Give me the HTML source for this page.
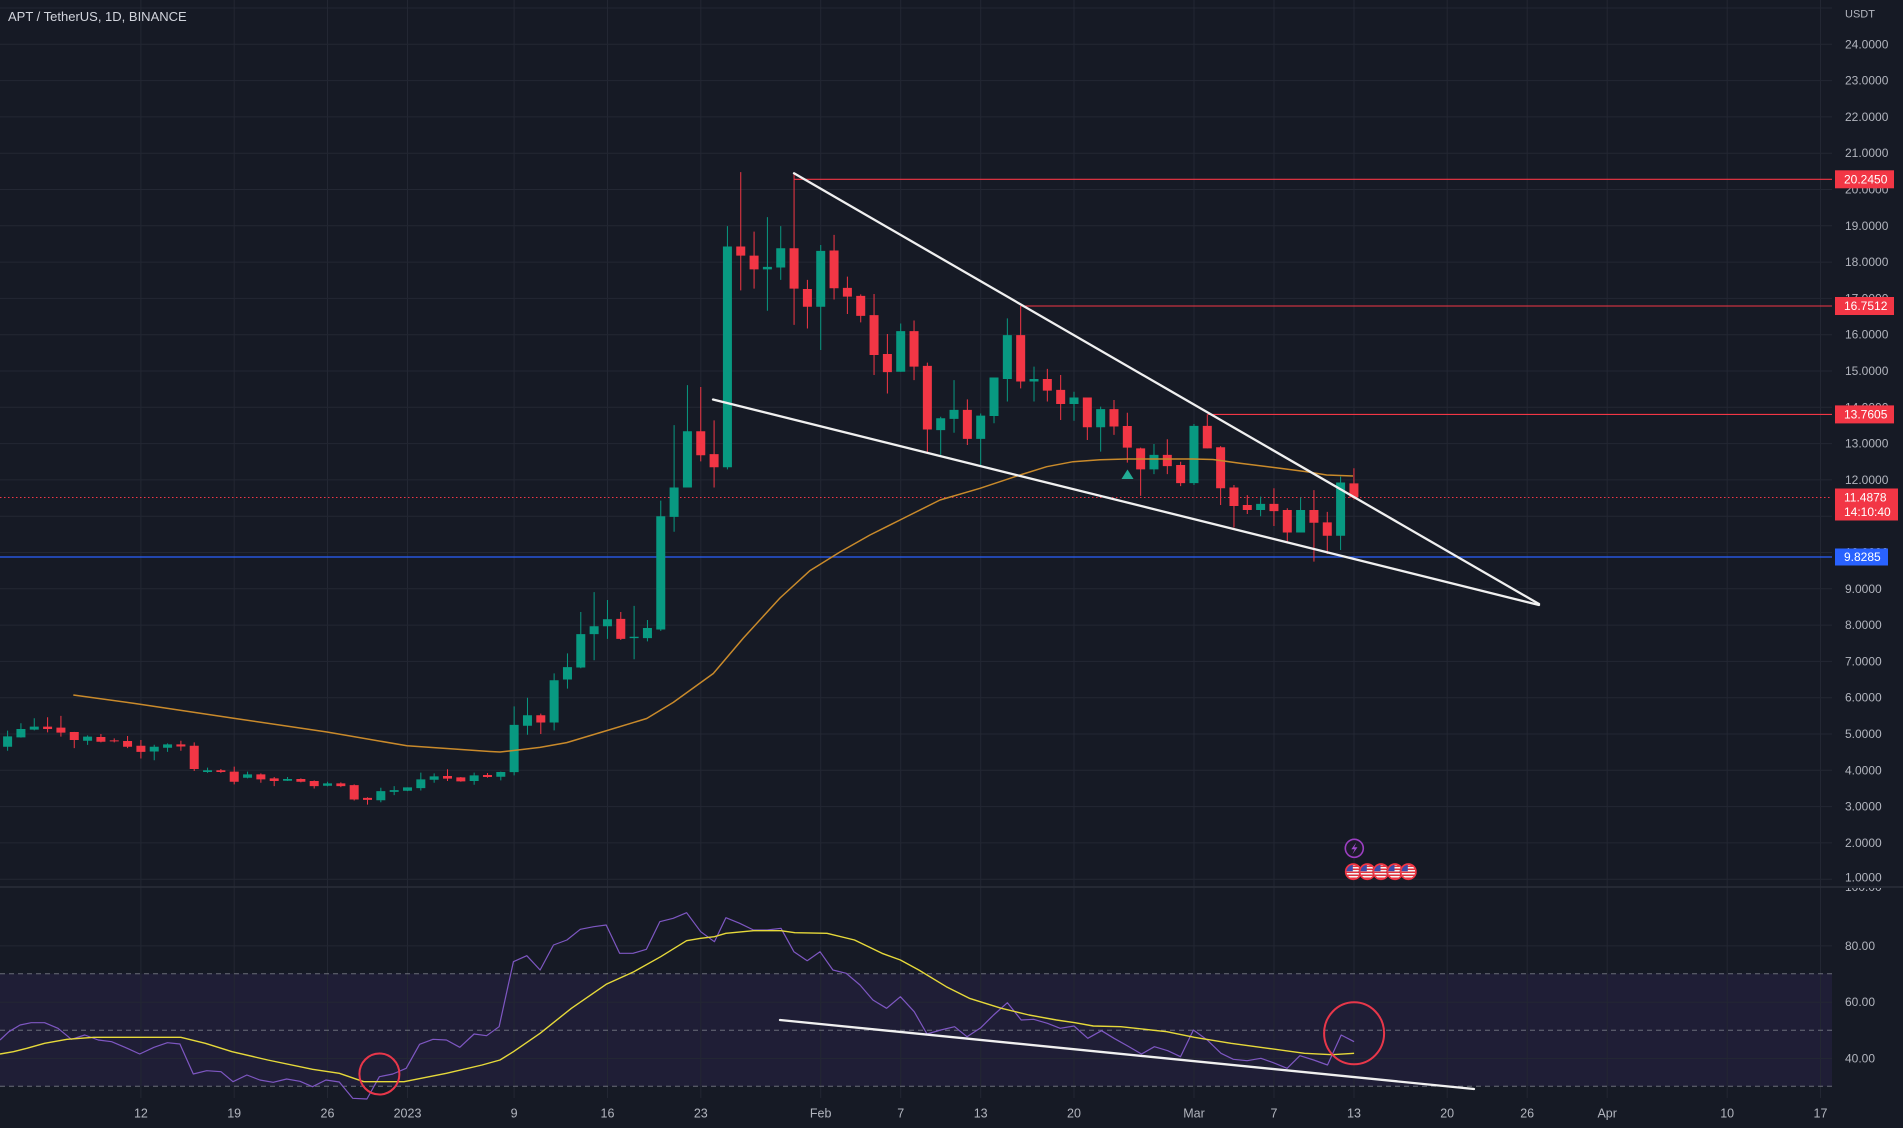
<!DOCTYPE html>
<html><head><meta charset="utf-8">
<style>
html,body{margin:0;padding:0;background:#161a25;}
svg{display:block;font-family:"Liberation Sans",Arial,sans-serif;}
</style></head>
<body>
<svg width="1903" height="1128" viewBox="0 0 1903 1128" xmlns="http://www.w3.org/2000/svg">
<defs>
<clipPath id="pricePane"><rect x="0" y="0" width="1832" height="886"/></clipPath>
<clipPath id="rsiPane"><rect x="0" y="888" width="1832" height="212"/></clipPath>
<clipPath id="rsiAxis"><rect x="1833" y="888" width="70" height="212"/></clipPath>
<clipPath id="fc"><circle cx="0" cy="0" r="7"/></clipPath>
<g id="flag">
<circle r="8.6" fill="#5a1a22"/>
<g clip-path="url(#fc)">
<rect x="-8" y="-8" width="16" height="16" fill="#f4f4f4"/>
<rect x="-8" y="-6.2" width="16" height="1.5" fill="#e0343f"/>
<rect x="-8" y="-3.2" width="16" height="1.5" fill="#e0343f"/>
<rect x="-8" y="-0.2" width="16" height="1.5" fill="#e0343f"/>
<rect x="-8" y="2.8" width="16" height="1.5" fill="#e0343f"/>
<rect x="-8" y="5.8" width="16" height="1.5" fill="#e0343f"/>
<rect x="-8" y="-8" width="7.5" height="7.5" fill="#3d4aa8"/>
</g>
<circle r="7.6" fill="none" stroke="#f23645" stroke-width="1.6"/>
</g>
</defs>

<rect x="0" y="0" width="1903" height="1128" fill="#161a25"/>

<!-- RSI band -->
<rect x="0" y="973.7" width="1832" height="112.6" fill="#1f1e36"/>

<!-- vertical grid -->
<g stroke="#232733" stroke-width="1">
<line x1="140.9" y1="0" x2="140.9" y2="1098"/>
<line x1="234.2" y1="0" x2="234.2" y2="1098"/>
<line x1="327.5" y1="0" x2="327.5" y2="1098"/>
<line x1="407.5" y1="0" x2="407.5" y2="1098"/>
<line x1="514.1" y1="0" x2="514.1" y2="1098"/>
<line x1="607.5" y1="0" x2="607.5" y2="1098"/>
<line x1="700.8" y1="0" x2="700.8" y2="1098"/>
<line x1="820.7" y1="0" x2="820.7" y2="1098"/>
<line x1="900.7" y1="0" x2="900.7" y2="1098"/>
<line x1="980.7" y1="0" x2="980.7" y2="1098"/>
<line x1="1074" y1="0" x2="1074" y2="1098"/>
<line x1="1194" y1="0" x2="1194" y2="1098"/>
<line x1="1274" y1="0" x2="1274" y2="1098"/>
<line x1="1354" y1="0" x2="1354" y2="1098"/>
<line x1="1447.2" y1="0" x2="1447.2" y2="1098"/>
<line x1="1527.2" y1="0" x2="1527.2" y2="1098"/>
<line x1="1607.2" y1="0" x2="1607.2" y2="1098"/>
<line x1="1727.2" y1="0" x2="1727.2" y2="1098"/>
<line x1="1820.5" y1="0" x2="1820.5" y2="1098"/>
</g>
<!-- horizontal grid price -->
<g stroke="#232733" stroke-width="1">
<line x1="0" x2="1832" y1="879.2" y2="879.2"/>
<line x1="0" x2="1832" y1="842.9" y2="842.9"/>
<line x1="0" x2="1832" y1="806.6" y2="806.6"/>
<line x1="0" x2="1832" y1="770.3" y2="770.3"/>
<line x1="0" x2="1832" y1="734" y2="734"/>
<line x1="0" x2="1832" y1="697.7" y2="697.7"/>
<line x1="0" x2="1832" y1="661.4" y2="661.4"/>
<line x1="0" x2="1832" y1="625.1" y2="625.1"/>
<line x1="0" x2="1832" y1="588.8" y2="588.8"/>
<line x1="0" x2="1832" y1="552.5" y2="552.5"/>
<line x1="0" x2="1832" y1="516.2" y2="516.2"/>
<line x1="0" x2="1832" y1="479.9" y2="479.9"/>
<line x1="0" x2="1832" y1="443.6" y2="443.6"/>
<line x1="0" x2="1832" y1="407.3" y2="407.3"/>
<line x1="0" x2="1832" y1="371" y2="371"/>
<line x1="0" x2="1832" y1="334.7" y2="334.7"/>
<line x1="0" x2="1832" y1="298.4" y2="298.4"/>
<line x1="0" x2="1832" y1="262.1" y2="262.1"/>
<line x1="0" x2="1832" y1="225.8" y2="225.8"/>
<line x1="0" x2="1832" y1="189.5" y2="189.5"/>
<line x1="0" x2="1832" y1="153.2" y2="153.2"/>
<line x1="0" x2="1832" y1="116.9" y2="116.9"/>
<line x1="0" x2="1832" y1="80.6" y2="80.6"/>
<line x1="0" x2="1832" y1="44.3" y2="44.3"/>
<line x1="0" x2="1832" y1="8" y2="8"/>
<!-- rsi grid -->
<line x1="0" x2="1832" y1="945.9" y2="945.9"/>
<line x1="0" x2="1832" y1="1002.2" y2="1002.2"/>
<line x1="0" x2="1832" y1="1058.5" y2="1058.5"/>
</g>

<!-- RSI dashed levels -->
<g stroke="#787b86" stroke-width="1" stroke-dasharray="5,4" opacity="0.85">
<line x1="0" x2="1832" y1="973.7" y2="973.7"/>
<line x1="0" x2="1832" y1="1030.3" y2="1030.3"/>
<line x1="0" x2="1832" y1="1086.3" y2="1086.3"/>
</g>

<!-- pane separator -->
<line x1="0" x2="1903" y1="887" y2="887" stroke="#2a2e39" stroke-width="1.5"/>

<!-- PRICE PANE -->
<g clip-path="url(#pricePane)">
<line x1="0" x2="1832" y1="557" y2="557" stroke="#2962ff" stroke-width="1.3"/>
<line x1="0" x2="1832" y1="497.5" y2="497.5" stroke="#f23645" stroke-width="1" stroke-dasharray="1.5,2.5"/>
<line x1="794" x2="1832" y1="179.3" y2="179.3" stroke="#f23645" stroke-width="1.1"/>
<line x1="1021" x2="1832" y1="306" y2="306" stroke="#f23645" stroke-width="1.1"/>
<line x1="1208" x2="1832" y1="414.4" y2="414.4" stroke="#f23645" stroke-width="1.1"/>

<!-- candles -->
<g transform="translate(407.5,915.5) scale(13.33,-36.3)" fill="none" stroke-linecap="butt">
<path stroke="#089981" stroke-width="1" vector-effect="non-scaling-stroke" d="M-30 4.537V5.093M-29 4.9V5.296M-28 5.1V5.435M-24 4.7V4.963M-19 4.278V4.704M-18 4.509V4.741M-15 3.93V4.074M-12 3.778V3.963M-9 3.704V3.815M-6 3.556V3.685M-2 3.12V3.519M-1 3.315V3.565M0 3.426V3.53M1 3.444V3.935M2 3.657V3.917M5 3.602V3.935M7 3.722V3.963M8 3.86V5.76M9 4.98V6M11 5.1V6.67M12 6.25V7.22M13 6.81V8.36M14 7.03V8.91M15 7.62V8.69M17 7.06V8.53M18 7.55V8.14M19 7.84V11.43M20 10.57V13.51M21 11.79V14.61M24 12.29V18.99M27 16.66V19.24M28 17.51V18.99M31 15.58V18.47M37 14.98V16.31M40 12.69V13.74M41 13.3V14.75M43 12.41V13.83M44 13.56V14.82M45 14.16V16.45M47 14.16V15.12M50 13.63V14.43M52 12.78V14.02M56 12.16V12.99M59 11.86V13.54M64 11V11.54M67 10.55V11.52M70 10.07V12.09"/>
<path stroke="#089981" stroke-width="9" vector-effect="non-scaling-stroke" d="M-30 4.648V4.935M-29 4.907V5.139M-28 5.12V5.204M-24 4.815V4.926M-19 4.519V4.648M-18 4.62V4.713M-15 3.954V4M-12 3.796V3.889M-9 3.713V3.759M-6 3.574V3.639M-2 3.176V3.426M-1 3.407V3.454M0 3.435V3.528M1 3.509V3.75M2 3.741V3.833M5 3.704V3.861M7 3.824V3.954M8 3.95V5.25M9 5.228V5.516M11 5.316V6.479M12 6.5V6.843M13 6.833V7.75M14 7.75V7.97M15 7.97V8.16M17 7.64V7.68M18 7.64V7.92M19 7.88V11M20 10.98V11.79M21 11.79V13.34M24 12.35V18.43M27 17.8V17.87M28 17.85V18.38M31 16.77V18.31M37 14.98V16.1M40 13.37V13.7M41 13.68V13.93M43 13.13V13.77M44 13.76V14.82M45 14.78V15.99M47 14.71V14.78M50 14.09V14.27M52 13.45V13.95M56 12.29V12.69M59 11.91V13.49M64 11.17V11.34M67 10.55V11.17M70 10.46V11.93"/>
<path stroke="#f23645" stroke-width="1" vector-effect="non-scaling-stroke" d="M-27 5.046V5.463M-26 4.926V5.5M-25 4.61V5.06M-23 4.77V5M-22 4.77V4.88M-21 4.61V4.944M-20 4.324V4.833M-17 4.537V4.815M-16 3.981V4.769M-14 3.93V4.037M-13 3.611V4.102M-11 3.657V3.917M-10 3.565V3.815M-8 3.667V3.778M-7 3.5V3.722M-5 3.537V3.667M-4 3.167V3.611M-3 3.056V3.259M3 3.704V4.028M4 3.685V3.815M6 3.796V3.926M10 5V5.56M16 7.59V8.36M22 12.51V14.56M23 11.79V13.64M25 17.22V20.48M26 17.27V18.84M29 16.27V20.45M30 16.17V17.51M32 16.97V18.75M33 16.57V17.6M34 16.34V17.11M35 14.89V17.12M36 14.38V16.02M38 14.75V16.39M39 12.73V15.23M42 12.96V14.22M46 14.52V16.79M48 14.16V15.06M49 13.65V14.89M51 13.1V14.27M53 13.24V14.2M54 12.475V13.85M55 11.56V12.89M57 12.16V13.12M58 11.83V12.5M60 12.87V13.81M61 11.31V12.93M62 10.69V11.86M63 11.06V11.58M65 10.73V11.77M66 10.27V11.22M68 9.75V11.72M69 9.96V11.12M71 11.46V12.32"/>
<path stroke="#f23645" stroke-width="9" vector-effect="non-scaling-stroke" d="M-27 5.204V5.139M-26 5.176V5.037M-25 5.056V4.833M-23 4.917V4.787M-22 4.824V4.796M-21 4.806V4.648M-20 4.676V4.509M-17 4.713V4.657M-16 4.676V4.037M-14 4V3.954M-13 3.963V3.685M-11 3.889V3.75M-10 3.778V3.704M-8 3.759V3.685M-7 3.704V3.565M-5 3.639V3.565M-4 3.593V3.194M-3 3.241V3.185M3 3.843V3.769M4 3.806V3.694M6 3.87V3.815M10 5.516V5.316M16 8.17V7.62M22 13.34V12.68M23 12.71V12.35M25 18.43V18.18M26 18.18V17.8M29 18.38V17.27M30 17.26V16.77M32 18.32V17.28M33 17.29V17.05M34 17.07V16.52M35 16.54V15.44M36 15.47V14.97M38 16.1V15.12M39 15.14V13.39M42 13.93V13.13M46 15.99V14.71M48 14.78V14.46M49 14.48V14.09M51 14.27V13.45M53 13.95V13.47M54 13.485V12.888M55 12.87V12.29M57 12.69V12.38M58 12.41V11.91M60 13.49V12.87M61 12.9V11.77M62 11.79V11.28M63 11.31V11.17M65 11.34V11.14M66 11.17V10.55M68 11.17V10.82M69 10.83V10.46M71 11.905V11.52"/>
</g>

<polyline fill="none" stroke="#c98a2b" stroke-width="1.5" stroke-linejoin="round" points="73.3,695 135,703.5 237,718.7 327,732 407,745.8 490,751.5 500,752 520,749.8 540,747.4 566.7,742.6 606.7,730.6 646.7,718.5 673.3,702.4 713.3,673.5 743.3,638.1 780,598 810,570.6 840,552 870,535 900,520 940,500 980,488.3 1020,475 1046.7,466.7 1073,461.7 1100,459.8 1126.7,459 1166.7,459 1193,459 1213,459.5 1240,463.3 1280,468.3 1306.7,471.7 1326.7,475 1353,476"/>

<line x1="794" y1="173.3" x2="1539" y2="604" stroke="#f0f0f0" stroke-width="2.3" stroke-linecap="round"/>
<line x1="713" y1="399.5" x2="1539" y2="605" stroke="#f0f0f0" stroke-width="2.3" stroke-linecap="round"/>

<polygon points="1127.5,469.5 1121.5,479 1133.5,479" fill="#22ab94"/>

<circle cx="1354.3" cy="848.3" r="9" fill="#1c1a2a" stroke="#9c3fc2" stroke-width="1.6"/>
<path d="M1356.3,842.5 L1351.3,849.3 L1354.6,849.3 L1352.4,854.2 L1357.5,847.2 L1354.2,847.2 Z" fill="#a24bd0"/>
<use href="#flag" x="1353.3" y="871.7"/>
<use href="#flag" x="1367.3" y="871.7"/>
<use href="#flag" x="1381" y="871.7"/>
<use href="#flag" x="1395" y="871.7"/>
<use href="#flag" x="1408.3" y="871.7"/>
</g>

<!-- RSI PANE -->
<g clip-path="url(#rsiPane)">
<polyline fill="none" stroke="#7e57c2" stroke-width="1.2" stroke-linejoin="round" points="0,1040 8.9,1031.7 20.1,1025 31.2,1022.7 44.6,1022.7 58,1028.3 71.4,1039.3 84.8,1035 98.2,1040 111.6,1041.7 125,1047.3 139.7,1054 154,1047.3 167.4,1042.7 179.9,1044 193.3,1074 206.7,1070.7 221,1071.7 233,1081.7 246.9,1075 259.8,1080 273.2,1082.3 286.6,1079 300,1081.3 312.5,1086.7 325.9,1080 339.3,1082 352.7,1098.3 366.9,1099 379.4,1076.7 392.8,1074 406.2,1068.3 419.6,1044.3 433,1039.3 446.4,1040 459.8,1047.3 474.1,1034 486.6,1035.7 499.1,1026.7 513.4,961.7 526.8,955.7 540.1,970 553.5,945 566.9,940 580.3,929.3 593.7,926.7 606.2,925 619.6,953.3 633,953.3 646.4,949.3 659.8,921.7 673.2,918.3 686.6,912.7 700.7,931.7 714.4,941.7 725.9,917.7 739.7,923.3 753.5,930 767.2,930 781,928.3 793.9,951.7 807.2,960.7 820,951.7 832.9,970 846.2,973.3 860,985 872.9,1000 886.6,1008.3 900.4,996.7 914.2,1011.7 927,1034 940.8,1030 954.6,1026.7 967,1036.7 980.8,1027.7 993.6,1015 1007.4,1002.7 1021.2,1020 1033.6,1019.3 1047.4,1023.3 1060.2,1028.3 1074,1026 1087.8,1038.3 1101.5,1030.7 1114,1038.3 1127.7,1046 1141.5,1054 1154.4,1046.7 1167.7,1050.7 1180.5,1056.7 1193.4,1030 1207.2,1040 1221,1053.3 1233.3,1059.3 1247.1,1060.7 1260.9,1058.3 1273.3,1062.7 1287.1,1068.3 1299.9,1055.7 1313.7,1060 1327.5,1065 1341.2,1035 1354.1,1041.7"/>
<polyline fill="none" stroke="#e6d93a" stroke-width="1.4" stroke-linejoin="round" points="0,1054 13.4,1051.7 26.8,1048.3 44.6,1043.3 67,1039.3 93.7,1037.3 133.9,1037.3 180.8,1037.3 205.3,1043.3 232.1,1051.7 267.8,1060 312.5,1069.3 339.3,1073.3 363.8,1081.7 404,1081.7 446.4,1073.3 482.1,1065 500,1060 513.4,1051.7 540.1,1033.3 571.4,1008.3 606.2,984.3 633.9,971.7 660.7,956.7 686.6,940.7 700.7,938.3 714.4,936.7 725.9,933.3 753.5,930.7 781,930.7 794.8,932.7 827,933.3 854.5,940 882,953.3 900.4,960 918.8,970 946.3,986.7 969.3,998.3 1001.4,1008.3 1029,1015 1056.5,1020 1074.9,1022.7 1093.3,1026 1120.8,1026.7 1166.8,1031.7 1194.3,1037.3 1231,1043.3 1267.8,1048.3 1304.5,1053.3 1332,1054.7 1354.1,1053.3"/>
<line x1="780" y1="1020" x2="1474" y2="1089" stroke="#f0f0f0" stroke-width="2.3" stroke-linecap="round"/>
<ellipse cx="379.4" cy="1074" rx="20" ry="20.5" fill="none" stroke="#e8374a" stroke-width="2"/>
<ellipse cx="1354.1" cy="1033.3" rx="30" ry="31" fill="none" stroke="#e8374a" stroke-width="2"/>
</g>

<text x="8" y="21" font-size="13" fill="#d1d4dc">APT / TetherUS, 1D, BINANCE</text>

<g font-size="12" fill="#b2b5be" dominant-baseline="central">
<text x="1845" y="14.5" font-size="11">USDT</text>
<text x="1845" y="44.3">24.0000</text>
<text x="1845" y="80.6">23.0000</text>
<text x="1845" y="116.9">22.0000</text>
<text x="1845" y="153.2">21.0000</text>
<text x="1845" y="189.5">20.0000</text>
<text x="1845" y="225.8">19.0000</text>
<text x="1845" y="262.1">18.0000</text>
<text x="1845" y="298.4">17.0000</text>
<text x="1845" y="334.7">16.0000</text>
<text x="1845" y="371">15.0000</text>
<text x="1845" y="407.3">14.0000</text>
<text x="1845" y="443.6">13.0000</text>
<text x="1845" y="479.9">12.0000</text>
<text x="1845" y="516.2">11.0000</text>
<text x="1845" y="552.5">10.0000</text>
<text x="1845" y="588.8">9.0000</text>
<text x="1845" y="625.1">8.0000</text>
<text x="1845" y="661.4">7.0000</text>
<text x="1845" y="697.7">6.0000</text>
<text x="1845" y="734">5.0000</text>
<text x="1845" y="770.3">4.0000</text>
<text x="1845" y="806.6">3.0000</text>
<text x="1845" y="842.9">2.0000</text>
<text x="1845" y="877.5">1.0000</text>
</g>
<g font-size="12" fill="#b2b5be" dominant-baseline="central" clip-path="url(#rsiAxis)">
<text x="1845" y="887">100.00</text>
<text x="1845" y="945.9">80.00</text>
<text x="1845" y="1002.2">60.00</text>
<text x="1845" y="1058.5">40.00</text>
</g>

<rect x="1835" y="170.3" width="59" height="18" fill="#f23645"/>
<rect x="1835" y="297" width="59" height="18" fill="#f23645"/>
<rect x="1835" y="405.4" width="59" height="18" fill="#f23645"/>
<rect x="1835" y="488.5" width="63" height="32" fill="#f23645"/>
<rect x="1835" y="548.5" width="53" height="17" fill="#2962ff"/>
<g font-size="12" fill="#ffffff" dominant-baseline="central">
<text x="1844" y="179.5">20.2450</text>
<text x="1844" y="306.2">16.7512</text>
<text x="1844" y="414.6">13.7605</text>
<text x="1844" y="497.5">11.4878</text>
<text x="1844" y="511.8">14:10:40</text>
<text x="1844" y="557.2">9.8285</text>
</g>

<g font-size="12.5" fill="#b2b5be" text-anchor="middle" dominant-baseline="central">
<text x="140.9" y="1113.5">12</text>
<text x="234.2" y="1113.5">19</text>
<text x="327.5" y="1113.5">26</text>
<text x="407.5" y="1113.5">2023</text>
<text x="514.1" y="1113.5">9</text>
<text x="607.5" y="1113.5">16</text>
<text x="700.8" y="1113.5">23</text>
<text x="820.7" y="1113.5">Feb</text>
<text x="900.7" y="1113.5">7</text>
<text x="980.7" y="1113.5">13</text>
<text x="1074" y="1113.5">20</text>
<text x="1194" y="1113.5">Mar</text>
<text x="1274" y="1113.5">7</text>
<text x="1354" y="1113.5">13</text>
<text x="1447.2" y="1113.5">20</text>
<text x="1527.2" y="1113.5">26</text>
<text x="1607.2" y="1113.5">Apr</text>
<text x="1727.2" y="1113.5">10</text>
<text x="1820.5" y="1113.5">17</text>
</g>
</svg>
</body></html>
